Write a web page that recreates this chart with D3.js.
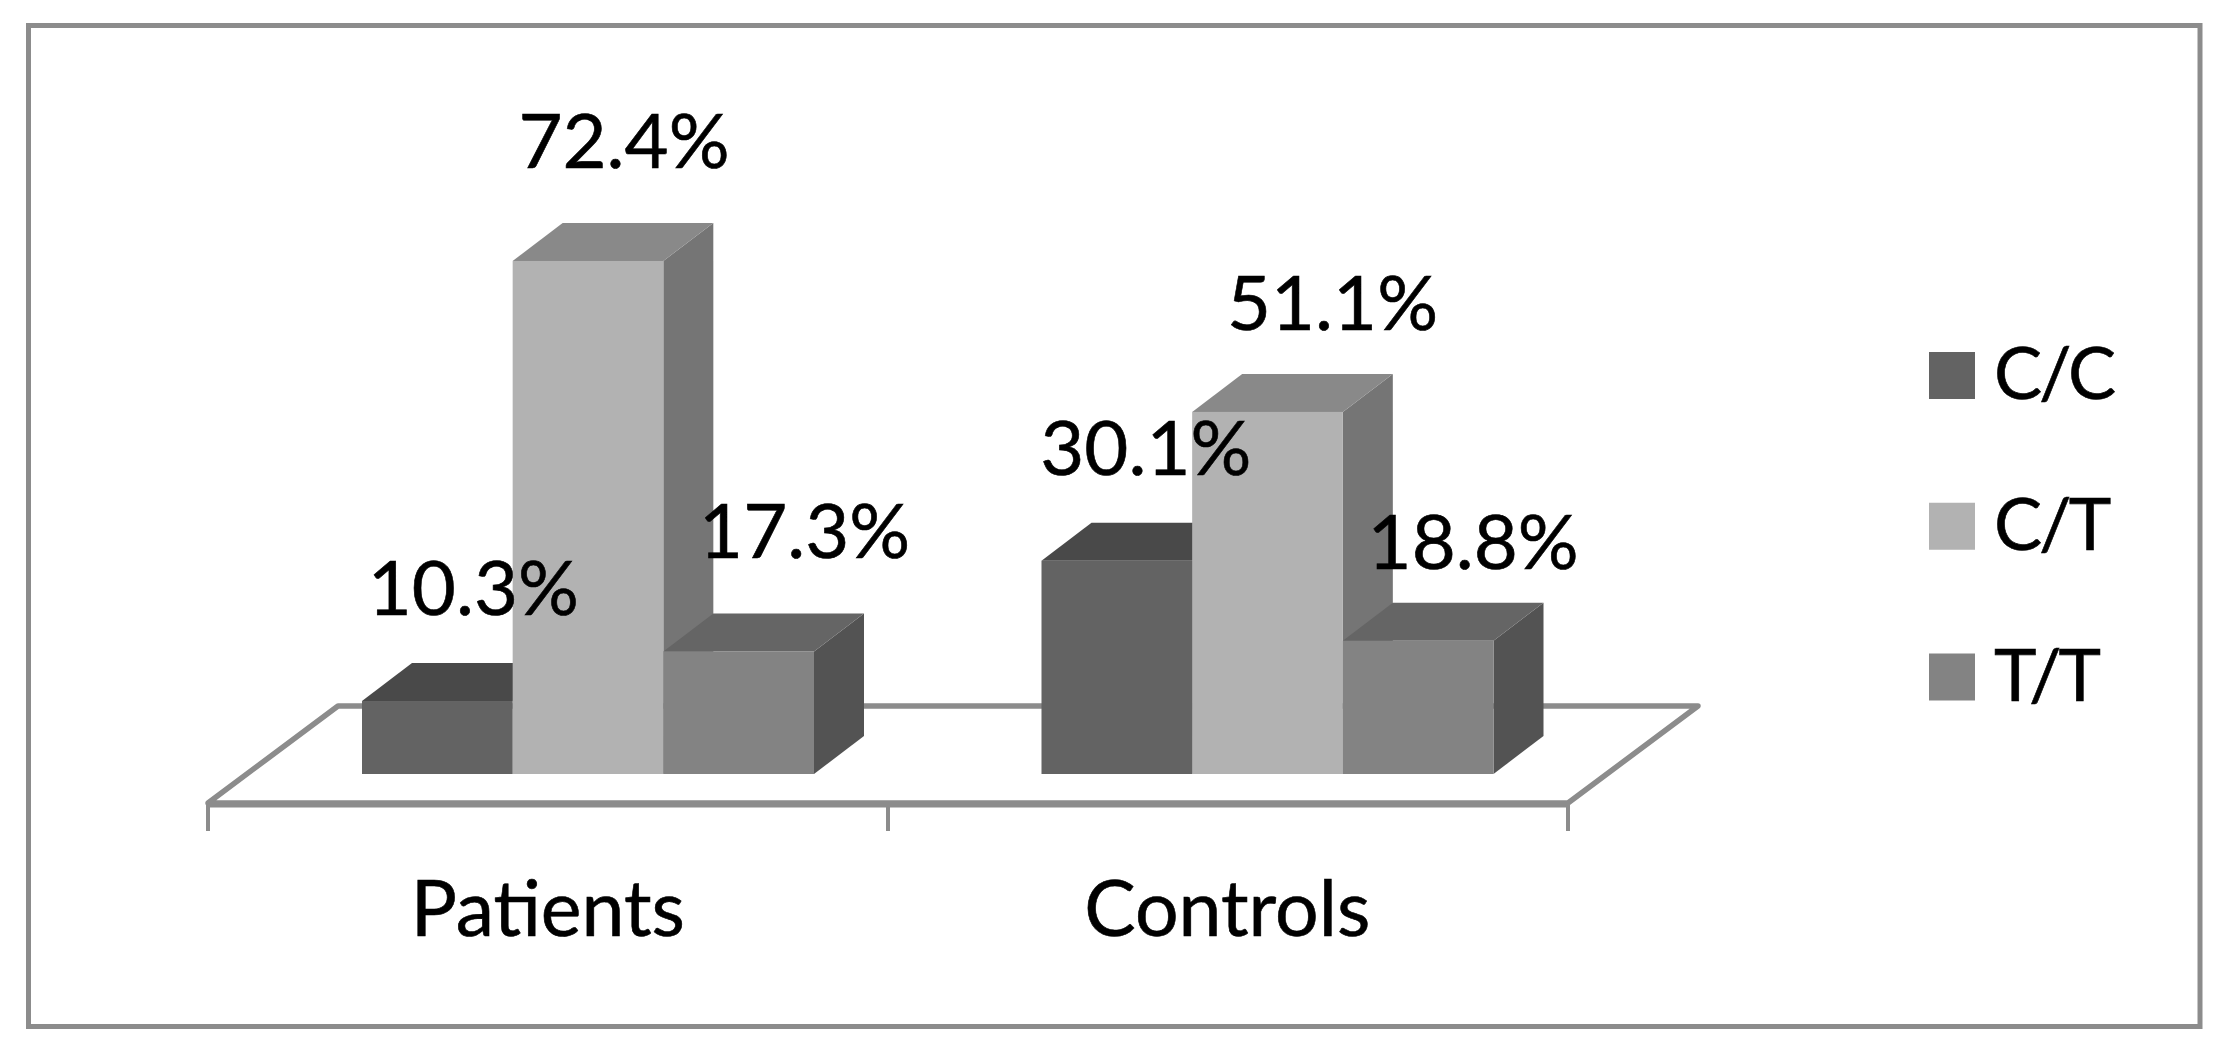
<!DOCTYPE html>
<html><head><meta charset="utf-8">
<script src="https://cdn.jsdelivr.net/npm/d3@7/dist/d3.min.js"></script>
<style>html,body{margin:0;padding:0;background:#fff}svg{display:block}text{font-family:Lato,"Open Sans",sans-serif;fill:#000;stroke:#000;stroke-width:0.6}</style>
</head><body><svg id="c" width="2237" height="1045"></svg>
<script>
const categories = ["Patients", "Controls"];
const seriesNames = ["C/C", "C/T", "T/T"];
const ccValues = [10.3, 30.1];
const ctValues = [72.4, 51.1];
const ttValues = [17.3, 18.8];
const valuesBySeries = [ccValues, ctValues, ttValues];

const frontColors = ["#636363", "#b2b2b2", "#838383"];
const topColors = ["#494949", "#898989", "#656565"];
const sideColors = ["#3f3f3f", "#757575", "#535353"];
// label nudges from the bar's top-centre, by series then category
const labelDx = [[36, 29], [36, 65], [66, 55]];
const labelDy = [[86, 86], [93, 82], [93, 72]];

const svg = d3.select("#c");
const grey = "#8c8c8c";
const x0 = d3.scaleBand().domain(categories).range([208, 1567]);
const xS = d3.scaleBand().domain(seriesNames).range([154, 606]);
const y = d3.scaleLinear().domain([0, 80]).range([774, 774 - 80 * 7.086]);
const depth = {dx: 50, dy: 38};
const line = d3.line();

svg.append("rect").attr("x", 28.5).attr("y", 25.5).attr("width", 2171.5).attr("height", 1001)
  .attr("fill", "#fff").attr("stroke", grey).attr("stroke-width", 5);

// floor
svg.append("path").attr("d", line([[208, 803], [338, 706], [1698, 706], [1568, 803]]) + "Z")
  .attr("fill", "#fff").attr("stroke", grey).attr("stroke-width", 5.5).attr("stroke-linejoin", "round");
// bottom axis ticks
const axis = d3.axisBottom(d3.scaleLinear().domain([0, 2]).range([208, 1568]))
  .tickValues([0, 1, 2]).tickSize(27).tickSizeOuter(0).tickFormat("");
const ag = svg.append("g").attr("transform", "translate(-0.5,804)").call(axis);
ag.selectAll(".domain").attr("stroke", grey).attr("stroke-width", 6);
ag.selectAll(".tick line").attr("stroke", grey).attr("stroke-width", 4);

// bars
seriesNames.forEach((s, si) => {
  categories.forEach((c, ci) => {
    const v = valuesBySeries[si][ci];
    const xl = x0(c) + xS(s), xr = xl + xS.bandwidth(), yt = y(v), yb = y(0);
    const {dx, dy} = depth;
    svg.append("path").attr("fill", sideColors[si])
      .attr("d", line([[xr, yt], [xr + dx, yt - dy], [xr + dx, yb - dy], [xr, yb]]) + "Z");
    svg.append("path").attr("fill", topColors[si])
      .attr("d", line([[xl, yt], [xl + dx, yt - dy], [xr + dx, yt - dy], [xr, yt]]) + "Z");
    svg.append("rect").attr("fill", frontColors[si])
      .attr("x", xl).attr("y", yt).attr("width", xr - xl).attr("height", yb - yt);
  });
});

// data labels
seriesNames.forEach((s, si) => {
  categories.forEach((c, ci) => {
    const v = valuesBySeries[si][ci];
    svg.append("text").attr("text-anchor", "middle").attr("font-size", 76)
      .attr("x", x0(c) + xS(s) + xS.bandwidth() / 2 + labelDx[si][ci])
      .attr("y", y(v) - labelDy[si][ci])
      .text(v.toFixed(1) + "%");
  });
});

// category labels
categories.forEach(c => {
  svg.append("text").attr("text-anchor", "middle").attr("font-size", 77)
    .attr("x", x0(c) + x0.bandwidth() / 2)
    .attr("y", 936).text(c);
});

// legend
const legendY = d3.scalePoint().domain(seriesNames).range([375.5, 677]);
seriesNames.forEach((s, i) => {
  svg.append("rect").attr("x", 1929).attr("y", legendY(s) - 23.5).attr("width", 46).attr("height", 47)
    .attr("fill", frontColors[i]);
  svg.append("text").attr("x", 1994).attr("y", legendY(s) + 23.5).attr("font-size", 72)
    .attr("letter-spacing", -3).text(s);
});
</script></body></html>
